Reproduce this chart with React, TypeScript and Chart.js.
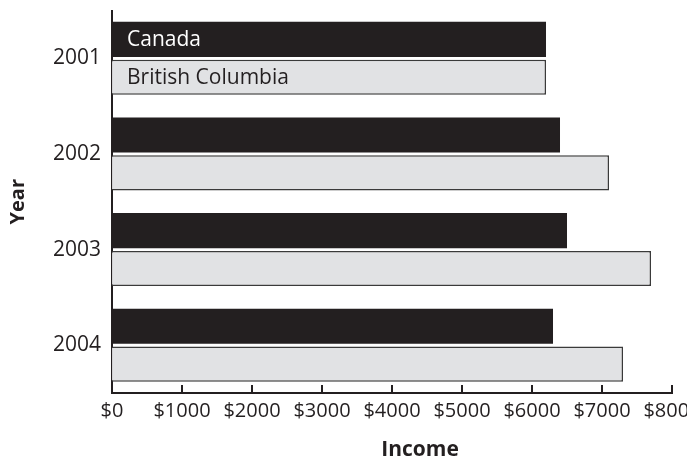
import React, { useEffect, useRef } from "react";
import { Chart, registerables } from "chart.js";

Chart.register(...registerables);

const years = ["2001", "2002", "2003", "2004"];
const canada = [6200, 6400, 6500, 6300];
const britishColumbia = [6200, 7100, 7700, 7300];
const seriesNames = ["Canada", "British Columbia"];
const incomeTicks = [0, 1000, 2000, 3000, 4000, 5000, 6000, 7000, 8000];
const xTitle = "Income";
const yTitle = "Year";

const INK = "#231f20";
const LIGHT = "#e1e2e4";
const FONT = "'Open Sans', sans-serif";

const overlay = {
  id: "overlay",
  afterDraw(chart: any) {
    const ctx = chart.ctx;
    const x = chart.scales.x;
    const area = chart.chartArea;
    ctx.save();
    // inward tick marks
    ctx.strokeStyle = INK;
    ctx.lineWidth = 2;
    incomeTicks.forEach((v) => {
      if (v === incomeTicks[0]) return;
      const px = Math.round(x.getPixelForValue(v));
      ctx.beginPath();
      ctx.moveTo(px, area.bottom - 8);
      ctx.lineTo(px, area.bottom);
      ctx.stroke();
    });
    // x title
    ctx.fillStyle = INK;
    ctx.font = `bold 21px ${FONT}`;
    ctx.textAlign = "center";
    ctx.textBaseline = "middle";
    ctx.fillText(xTitle, (area.left + area.right) / 2 + 28, area.bottom + 57);
    // series names inside first bars
    ctx.font = `21px ${FONT}`;
    ctx.textAlign = "left";
    chart.data.datasets.forEach((ds: any, i: number) => {
      const el = chart.getDatasetMeta(i).data[0] as any;
      ctx.fillStyle = i === 0 ? "#ffffff" : INK;
      ctx.fillText(ds.label, el.base + 15, el.y + 1);
    });
    ctx.restore();
  },
};

export default function App() {
  const ref = useRef<HTMLCanvasElement>(null);
  useEffect(() => {
    document.body.style.margin = "0";
    const chart = new Chart(ref.current!, {
      type: "bar",
      data: {
        labels: years,
        datasets: [
          {
            label: seriesNames[0],
            data: canada,
            backgroundColor: INK,
            borderColor: INK,
            borderWidth: 0,
          },
          {
            label: seriesNames[1],
            data: britishColumbia,
            backgroundColor: LIGHT,
            borderColor: "#3a3a3a",
            borderWidth: 1.5,
          },
        ],
      },
      options: {
        indexAxis: "y",
        responsive: false,
        animation: false,
        layout: { padding: { top: 10.5, bottom: 28, left: 6, right: 28 } },
        datasets: { bar: { categoryPercentage: 0.79, barPercentage: 0.93 } } as any,
        plugins: { legend: { display: false }, tooltip: { enabled: false } },
        scales: {
          x: {
            type: "linear",
            min: 0,
            max: 8000,
            grid: { display: false, drawTicks: false },
            border: { display: true, color: INK, width: 2 },
            afterBuildTicks: (s: any) => {
              s.ticks = incomeTicks.map((v) => ({ value: v }));
            },
            afterFit: (s: any) => {
              s.paddingLeft = 0;
              s.paddingRight = 0;
            },
            ticks: {
              callback: (v: any) => "$" + v,
              font: { family: FONT, size: 20 },
              color: INK,
              padding: 6,
              maxRotation: 0,
              autoSkip: false,
            },
          },
          y: {
            grid: { display: false, drawTicks: false },
            border: { display: true, color: INK, width: 2 },
            afterFit: (s: any) => {
              s.paddingTop = 0;
              s.paddingBottom = 0;
            },
            ticks: { font: { family: FONT, size: 21 }, color: INK, padding: 11 },
            title: {
              display: true,
              text: yTitle,
              font: { family: FONT, size: 20, weight: "bold" },
              color: INK,
              padding: { top: 0, bottom: 12 },
            },
          },
        },
      },
      plugins: [overlay],
    });
    return () => chart.destroy();
  }, []);
  return (
    <div style={{ width: 687, height: 457, overflow: "hidden" }}>
      <canvas ref={ref} width={700} height={457} style={{ display: "block" }} />
    </div>
  );
}
